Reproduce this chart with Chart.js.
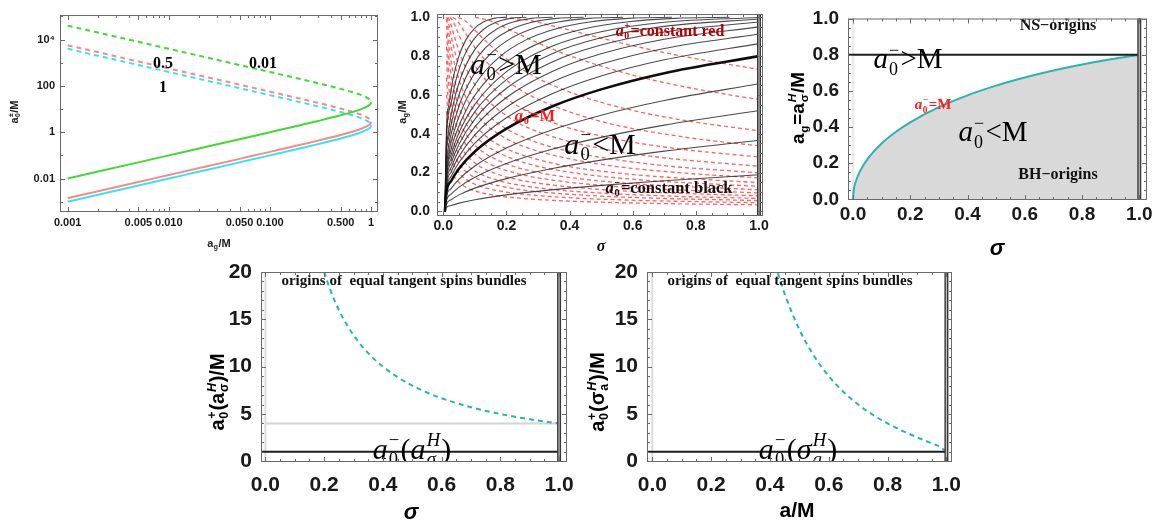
<!DOCTYPE html>
<html><head><meta charset="utf-8">
<script src="https://cdn.jsdelivr.net/npm/chart.js@4.4.1/dist/chart.umd.min.js"></script>
<style>
html,body{margin:0;padding:0;background:#fff;}
#wrap{position:relative;width:1165px;height:523px;overflow:hidden;background:#fff;}
canvas{position:absolute;left:0;top:0;}
</style></head><body>
<div id="wrap">
<canvas id="c1" width="1165" height="523"></canvas>
<canvas id="c2" width="1165" height="523"></canvas>
<canvas id="c3" width="1165" height="523"></canvas>
<canvas id="c4" width="1165" height="523"></canvas>
<canvas id="c5" width="1165" height="523"></canvas>
</div>
<script>
// ---------- tick values / labels ----------
const unitTicks = [0, 0.2, 0.4, 0.6, 0.8, 1];
const unitLabels = ['0.0', '0.2', '0.4', '0.6', '0.8', '1.0'];
const unitMinor = [0.05,0.1,0.15,0.25,0.3,0.35,0.45,0.5,0.55,0.65,0.7,0.75,0.85,0.9,0.95];
const spinTicks = [0, 5, 10, 15, 20];
const spinLabels = ['0', '5', '10', '15', '20'];
const spinMinor = [1,2,3,4,6,7,8,9,11,12,13,14,16,17,18,19];
const p1XTicks = [0.001, 0.005, 0.01, 0.05, 0.1, 0.5, 1];
const p1XLabels = ['0.001', '0.005', '0.010', '0.050', '0.100', '0.500', '1'];
const p1XMinor = [0.002,0.003,0.004,0.006,0.007,0.008,0.009,0.02,0.03,0.04,0.06,0.07,0.08,0.09,0.2,0.3,0.4,0.6,0.7,0.8,0.9];
const p1YTicks = [0.01, 1, 100, 10000];
const p1YLabels = ['0.01', '1', '100', '10\u2074'];
const p1YMinor = [0.001, 0.1, 10, 1000, 100000];

// ---------- panel 1: a0± vs a_g (sigma = 0.01, 0.5, 1) ----------
const p1Ag = [0.001,0.002,0.005,0.01,0.02,0.05,0.1,0.2,0.3,0.5,0.7,0.8,0.9,0.95,0.98,0.995,1.0];
const p1MinusS1 = [0.001,0.002,0.005,0.01,0.02,0.05003,0.10025,0.20204,0.30707,0.5359,0.81674,1.0,1.25358,1.4479,1.6347,1.8093,2.0];
const p1PlusS1 = [4000,2000,800,400,199.98,79.95,39.9,19.798,13.026,7.4641,4.8976,4.0,3.1909,2.7626,2.4469,2.2108,2.0];
const p1MinusS05 = [0.001414,0.002828,0.007071,0.014142,0.028284,0.070753,0.141775,0.285727,0.434262,0.757875,1.155046,1.414214,1.772826,2.047635,2.311809,2.55872,2.828427];
const p1PlusS05 = [5656.9,2828.4,1131.4,565.69,282.81,113.07,56.427,27.998,18.422,10.556,6.9263,5.6569,4.5126,3.9069,3.4604,3.1266,2.8284];
const p1MinusS001 = [0.01,0.02,0.05,0.1,0.2,0.5003,1.0025,2.0204,3.0707,5.359,8.1674,10,12.5358,14.479,16.347,18.093,20];
const p1PlusS001 = [40000,20000,8000,4000,1999.8,799.5,399,197.98,130.26,74.641,48.976,40,31.909,27.626,24.469,22.108,20];

// ---------- panel 2: a0- = const (black), a0+ = const (red) ----------
const sigmaGrid = [0.005,0.01,0.025,0.05,0.1,0.2,0.35,0.5,0.7,1.0];
const blackA0 = [0.19,0.38,0.56,0.75,1.0,1.15,1.3,1.45,1.6,1.75,1.9,2.1,2.35,2.65,3.0,3.4,3.9,4.5];
const blackSigma = [
  sigmaGrid, sigmaGrid, sigmaGrid, sigmaGrid, sigmaGrid, sigmaGrid, sigmaGrid, sigmaGrid, sigmaGrid, sigmaGrid, sigmaGrid,
  [0.005,0.01,0.020408,0.036281,0.081633,0.145125,0.226757,0.326531,0.444444,0.580499,0.734694,0.907029],
  [0.005,0.01,0.016297,0.028972,0.065188,0.11589,0.18108,0.26075,0.35491,0.46356,0.58669,0.72431],
  [0.005,0.01,0.012816,0.022784,0.051264,0.091136,0.1424,0.20506,0.2791,0.36454,0.46138,0.5696],
  [0.005,0.01,0.017778,0.04,0.071111,0.11111,0.16,0.21778,0.28444,0.36,0.44444],
  [0.005,0.01,0.013841,0.031142,0.055363,0.086505,0.12457,0.16955,0.22145,0.28028,0.34602],
  [0.005,0.01,0.023669,0.042077,0.065746,0.094675,0.12886,0.16831,0.21302,0.26298],
  [0.005,0.01,0.017778,0.031605,0.049383,0.071111,0.09679,0.12642,0.16,0.19753]
];
const blackAg = [
  [0,0.019,0.03003,0.04246,0.06002,0.08483,0.11205,0.13376,0.15796,0.1883],
  [0,0.03799,0.06003,0.08483,0.11973,0.16872,0.22201,0.26394,0.3101,0.36676],
  [0,0.05596,0.08837,0.12473,0.1757,0.24657,0.32245,0.38104,0.44414,0.51929],
  [0,0.0749,0.11816,0.16653,0.23389,0.32623,0.42289,0.4955,0.57127,0.65753],
  [0,0.09975,0.15714,0.22084,0.30851,0.42592,0.544,0.62853,0.71205,0.8],
  [0,0.11462,0.18033,0.25296,0.35202,0.4824,0.60979,0.69782,0.78133,0.86425],
  [0,0.12945,0.20339,0.28468,0.39444,0.53608,0.67002,0.75892,0.83941,0.91388],
  [0,0.14424,0.22629,0.31594,0.43564,0.58678,0.72454,0.81192,0.88685,0.95043],
  [0,0.15898,0.249,0.34669,0.47553,0.63435,0.77335,0.85711,0.92449,0.97561],
  [0,0.17367,0.2715,0.37689,0.51404,0.6787,0.81652,0.89487,0.95327,0.99115],
  [0,0.1883,0.29377,0.40651,0.5511,0.71978,0.85422,0.92576,0.9742,0.99869],
  [0,0.20771,0.2934,0.38462,0.55046,0.68966,0.8,0.88235,0.9396,0.97561,0.99448,1],
  [0,0.2318,0.2934,0.38462,0.55046,0.68966,0.8,0.88235,0.9396,0.97561,0.99448,1],
  [0,0.26043,0.2934,0.38462,0.55046,0.68966,0.8,0.88235,0.9396,0.97561,0.99448,1],
  [0,0.2934,0.38462,0.55046,0.68966,0.8,0.88235,0.9396,0.97561,0.99448,1],
  [0,0.33045,0.38462,0.55046,0.68966,0.8,0.88235,0.9396,0.97561,0.99448,1],
  [0,0.37571,0.55046,0.68966,0.8,0.88235,0.9396,0.97561,0.99448,1],
  [0,0.42832,0.55046,0.68966,0.8,0.88235,0.9396,0.97561,0.99448,1]
];
const redA0 = [4.6,6.3,9.2,11.5,14,17,20,23,27,31,36,42,50,60,72,90,120];
const redSigma = [
  [0.18904,0.27221,0.37051,0.48393,0.61248,0.75614,1.0],
  [0.10078,0.14512,0.19753,0.25799,0.32653,0.40312,0.62988,0.90703,1.0],
  [0.047259,0.068053,0.092628,0.12098,0.18904,0.29537,0.42533,0.57892,0.75614,1.0],
  [0.030246,0.043554,0.059282,0.07743,0.12098,0.18904,0.27221,0.48393,0.75614,1.0],
  [0.020408,0.029388,0.04,0.052245,0.081633,0.12755,0.18367,0.32653,0.5102,0.73469,1.0],
  [0.013841,0.019931,0.027128,0.035433,0.055363,0.086505,0.12457,0.22145,0.34602,0.49827,0.6782,1.0],
  [0.01,0.0144,0.0196,0.0256,0.04,0.0625,0.09,0.16,0.25,0.36,0.64,1.0],
  [0.01,0.01482,0.019357,0.030246,0.047259,0.068053,0.12098,0.18904,0.27221,0.48393,0.75614,1.0],
  [0.01,0.014047,0.021948,0.034294,0.049383,0.087791,0.13717,0.19753,0.35117,0.5487,1.0],
  [0.01,0.016649,0.026015,0.037461,0.066597,0.10406,0.14984,0.26639,0.41623,0.59937,1.0],
  [0.01,0.012346,0.01929,0.027778,0.049383,0.07716,0.11111,0.19753,0.30864,0.44444,0.60494,1.0],
  [0.01,0.014172,0.020408,0.036281,0.056689,0.081633,0.14512,0.22676,0.32653,0.44444,0.65533,1.0],
  [0.01,0.0144,0.0256,0.04,0.0576,0.1024,0.16,0.2304,0.3136,0.4624,0.64,1.0],
  [0.01,0.017778,0.027778,0.04,0.071111,0.11111,0.16,0.21778,0.32111,0.44444,0.69444,1.0],
  [0.01,0.012346,0.01929,0.027778,0.049383,0.07716,0.11111,0.15123,0.22299,0.30864,0.48225,0.69444,1.0],
  [0.01,0.012346,0.017778,0.031605,0.049383,0.071111,0.09679,0.14272,0.19753,0.30864,0.44444,0.64,1.0],
  [0.01,0.017778,0.027778,0.04,0.054444,0.080278,0.11111,0.17361,0.25,0.36,0.5625,1.0]
];
const redAg = [
  [1,0.98361,0.94595,0.89888,0.84906,0.8,0.73132],
  [1,0.98361,0.94595,0.89888,0.84906,0.8,0.68966,0.6,0.57679],
  [1,0.98361,0.94595,0.89888,0.8,0.68966,0.6,0.5283,0.47059,0.41516],
  [1,0.98361,0.94595,0.89888,0.8,0.68966,0.6,0.47059,0.38462,0.33761],
  [1,0.98361,0.94595,0.89888,0.8,0.68966,0.6,0.47059,0.38462,0.32432,0.28],
  [1,0.98361,0.94595,0.89888,0.8,0.68966,0.6,0.47059,0.38462,0.32432,0.28,0.23208],
  [1,0.98361,0.94595,0.89888,0.8,0.68966,0.6,0.47059,0.38462,0.32432,0.24615,0.19802],
  [0.99031,0.94595,0.89888,0.8,0.68966,0.6,0.47059,0.38462,0.32432,0.24615,0.19802,0.17261],
  [0.9566,0.89888,0.8,0.68966,0.6,0.47059,0.38462,0.32432,0.24615,0.19802,0.14734],
  [0.9111,0.8,0.68966,0.6,0.47059,0.38462,0.32432,0.24615,0.19802,0.16552,0.1285],
  [0.84906,0.8,0.68966,0.6,0.47059,0.38462,0.32432,0.24615,0.19802,0.16552,0.14213,0.11077],
  [0.77634,0.68966,0.6,0.47059,0.38462,0.32432,0.24615,0.19802,0.16552,0.14213,0.11724,0.09502],
  [0.68966,0.6,0.47059,0.38462,0.32432,0.24615,0.19802,0.16552,0.14213,0.11724,0.09975,0.07987],
  [0.6,0.47059,0.38462,0.32432,0.24615,0.19802,0.16552,0.14213,0.11724,0.09975,0.07987,0.06659],
  [0.51576,0.47059,0.38462,0.32432,0.24615,0.19802,0.16552,0.14213,0.11724,0.09975,0.07987,0.06659,0.05551],
  [0.42353,0.38462,0.32432,0.24615,0.19802,0.16552,0.14213,0.11724,0.09975,0.07987,0.06659,0.05551,0.04442],
  [0.32432,0.24615,0.19802,0.16552,0.14213,0.11724,0.09975,0.07987,0.06659,0.05551,0.04442,0.03332]
];
const sigmaOneX = [1, 1];
const sigmaOneY = [-1, 2];

// ---------- panel 3: a_g = a_sigma^H ----------
const p3Sigma = [0,0.0025,0.01,0.025,0.05,0.1,0.15,0.2,0.3,0.4,0.5,0.6,0.7,0.8,0.9,1.0];
const p3Ag = [0,0.04997,0.09975,0.15713,0.22085,0.30852,0.3733,0.42592,0.50951,0.57496,0.62854,0.67356,0.71205,0.74536,0.77443,0.8];
const p3NsX = [-0.05, 1];
const p3NsY = [0.8, 0.8];
const zeroLineX = [0, 0];

// ---------- panel 4: a0+(a_sigma^H) vs sigma ----------
const p4Sigma = [0.2,0.22,0.25,0.28,0.32,0.36,0.4,0.45,0.5,0.55,0.6,0.7,0.8,0.9,1.0];
const p4A0Plus = [20,18.182,16,14.286,12.5,11.111,10,8.8889,8,7.2727,6.6667,5.7143,5,4.4444,4];
const p4GrayX = [0, 1];
const p4GrayY = [4, 4];
const a0MinusX = [-0.05, 1];
const a0MinusY = [1, 1];
const spinVertY = [-1, 21];

// ---------- panel 5: a0+(sigma_a^H) vs a/M ----------
const p5A = [0.427,0.45,0.5,0.55,0.6,0.65,0.7,0.75,0.8,0.85,0.9,0.95,0.98,1.0];
const p5A0Plus = [19.888,17.697,13.928,11.133,9,7.331,5.9965,4.9073,4,3.2264,2.5454,1.908,1.4969,1];

// ================== helpers ==================
const W = 1165, H = 523;
Chart.defaults.font.family = '"Liberation Sans", Arial, sans-serif';
const pts = (xs, ys) => xs.map((x, i) => ({x: x, y: ys[i]}));

function drawRich(ctx, t) {
  const fam = t.sans ? '"Liberation Sans", Arial, sans-serif' : '"Liberation Serif", "Times New Roman", serif';
  const wt = t.bold ? 'bold ' : '';
  const S = t.size, s = S * 0.62;
  const f = (it, sz) => (it ? 'italic ' : '') + wt + sz + 'px ' + fam;
  ctx.save();
  const items = [];
  let total = 0;
  for (const p of t.parts) {
    if (typeof p === 'string' || p.t !== undefined) {
      const txt = typeof p === 'string' ? p : p.t;
      const it = typeof p === 'string' ? false : !!p.it;
      ctx.font = f(it, S);
      const wd = ctx.measureText(txt).width;
      items.push({k: 'n', txt, it, wd}); total += wd;
    } else {
      let w1 = 0, w2 = 0;
      if (p.sub) { ctx.font = f(p.subIt, s); w1 = ctx.measureText(p.sub).width; }
      if (p.sup) { ctx.font = f(p.supIt, s); w2 = ctx.measureText(p.sup).width; }
      const wd = Math.max(w1, w2) + S * 0.08;
      items.push({k: 's', p, wd}); total += wd;
    }
  }
  ctx.translate(t.x, t.y);
  if (t.rot) ctx.rotate(-Math.PI / 2);
  ctx.fillStyle = t.color || '#000';
  ctx.textBaseline = 'alphabetic';
  ctx.textAlign = 'left';
  let x = -total / 2;
  const base = S * 0.35;
  for (const it of items) {
    if (it.k === 'n') { ctx.font = f(it.it, S); ctx.fillText(it.txt, x, base); }
    else {
      const p = it.p;
      if (p.sub) { ctx.font = f(p.subIt, s); ctx.fillText(p.sub, x + S * 0.04, base + S * 0.22); }
      if (p.sup) { ctx.font = f(p.supIt, s); ctx.fillText(p.sup, x + S * 0.04, base - S * 0.42); }
    }
    x += it.wd;
  }
  ctx.restore();
}

function decorPlugin(cfg) {
  return {
    id: 'decor',
    afterDatasetsDraw(chart) {
      const c = chart.ctx, a = chart.chartArea;
      c.save();
      c.beginPath(); c.rect(a.left, a.top, a.right - a.left, a.bottom - a.top); c.clip();
      (cfg.inner || []).forEach(t => drawRich(c, t));
      c.restore();
      c.save();
      c.strokeStyle = cfg.frameColor || '#6a6a6a';
      c.lineWidth = 1;
      c.strokeRect(a.left + 0.5, a.top + 0.5, a.right - a.left - 1, a.bottom - a.top - 1);
      const xs = chart.scales.x, ys = chart.scales.y;
      const tickX = (vals, len) => vals.forEach(v => {
        const p = Math.round(xs.getPixelForValue(v)) + 0.5;
        if (p < a.left || p > a.right) return;
        c.beginPath(); c.moveTo(p, a.bottom); c.lineTo(p, a.bottom - len);
        c.moveTo(p, a.top); c.lineTo(p, a.top + len); c.stroke();
      });
      const tickY = (vals, len) => vals.forEach(v => {
        const p = Math.round(ys.getPixelForValue(v)) + 0.5;
        if (p < a.top || p > a.bottom) return;
        c.beginPath(); c.moveTo(a.left, p); c.lineTo(a.left + len, p);
        c.moveTo(a.right, p); c.lineTo(a.right - len, p); c.stroke();
      });
      tickX(cfg.xMajor, 5); tickX(cfg.xMinor, 3);
      tickY(cfg.yMajor, 5); tickY(cfg.yMinor, 3);
      c.restore();
      (cfg.outer || []).forEach(t => drawRich(c, t));
    }
  };
}

function axis(s, fr, isX) {
  return {
    type: s.type || 'linear', min: s.min, max: s.max, position: isX ? 'bottom' : 'left',
    grid: {display: false, drawTicks: false}, border: {display: false},
    afterFit: isX ? (sc) => { sc.height = H - fr.b; } : (sc) => { sc.width = fr.l; },
    afterBuildTicks: (sc) => { sc.ticks = s.ticks.map(v => ({value: v})); },
    ticks: {autoSkip: false, maxRotation: 0, minRotation: 0, padding: s.pad, color: '#1a1a1a',
      font: {size: s.font, weight: 'bold', lineHeight: 1},
      callback: (v, i) => s.labels[i]}
  };
}

function makeChart(id, fr, xs, ys, datasets, decor) {
  return new Chart(document.getElementById(id), {
    type: 'line',
    data: {datasets: datasets},
    options: {
      responsive: false, animation: false, devicePixelRatio: 1,
      layout: {padding: {left: 0, top: fr.t, right: W - fr.r, bottom: 0}},
      plugins: {legend: {display: false}, tooltip: {enabled: false}},
      elements: {point: {radius: 0}, line: {borderCapStyle: 'butt'}},
      scales: {x: axis(xs, fr, true), y: axis(ys, fr, false)}
    },
    plugins: [decorPlugin(decor)]
  });
}

const line = (data, color, width, dash, extra) => Object.assign({
  data: data, borderColor: color, borderWidth: width, borderDash: dash || [],
  fill: false, pointRadius: 0, cubicInterpolationMode: 'monotone', showLine: true
}, extra || {});

const vDouble = (ys) => [
  line(pts(sigmaOneX, ys), '#3a3a3a', 4, [], {order: -2, cubicInterpolationMode: 'default', tension: 0}),
  line(pts(sigmaOneX, ys), '#bdbdbd', 1.2, [], {order: -3, cubicInterpolationMode: 'default', tension: 0})
];

// ================== panel 1 ==================
const GREEN = '#41d934', PINK = '#f48a8a', CYAN = '#38e2f2';
makeChart('c1', {l: 60, t: 15, r: 378, b: 212},
  {type: 'logarithmic', min: 0.00084, max: 1.17, ticks: p1XTicks, labels: p1XLabels, font: 11, pad: 5},
  {type: 'logarithmic', min: 3.6e-4, max: 1.15e5, ticks: p1YTicks, labels: p1YLabels, font: 11, pad: 5},
  [
    line(pts(p1Ag, p1MinusS001), GREEN, 2),
    line(pts(p1Ag, p1PlusS001), GREEN, 2, [5, 4]),
    line(pts(p1Ag, p1MinusS05), PINK, 2),
    line(pts(p1Ag, p1PlusS05), PINK, 2, [5, 4]),
    line(pts(p1Ag, p1MinusS1), CYAN, 2),
    line(pts(p1Ag, p1PlusS1), CYAN, 2, [5, 4])
  ],
  {
    xMajor: p1XTicks, xMinor: p1XMinor, yMajor: p1YTicks, yMinor: p1YMinor,
    inner: [
      {parts: ['0.5'], x: 163, y: 62, size: 16, bold: true},
      {parts: ['0.01'], x: 263, y: 62, size: 16, bold: true},
      {parts: ['1'], x: 163, y: 86, size: 16, bold: true}
    ],
    outer: [
      {parts: ['a', {sub: 'g'}, '/M'], x: 219, y: 243, size: 11, bold: true, sans: true, color: '#222'},
      {parts: ['a', {sub: '0', sup: '\u00b1'}, '/M'], x: 14, y: 112, size: 11, bold: true, sans: true, rot: true, color: '#222'}
    ]
  });

// ================== panel 2 ==================
const ds2 = [];
blackA0.forEach((c, i) => {
  const thick = c === 1.0;
  ds2.push(line(pts(blackSigma[i], blackAg[i]), thick ? 'rgba(0,0,0,0.95)' : 'rgba(30,30,30,0.8)', thick ? 2.6 : 1.1, [], {order: 0}));
});
redA0.forEach((c, i) => {
  ds2.push(line(pts(redSigma[i], redAg[i]), 'rgba(255,35,35,0.72)', 1.3, [4, 3], {order: 1}));
});
vDouble(sigmaOneY).forEach(d => ds2.push(d));
makeChart('c2', {l: 437, t: 14, r: 763, b: 216},
  {min: -0.02, max: 1.0127, ticks: unitTicks, labels: unitLabels, font: 14, pad: 3},
  {min: -0.024, max: 1.017, ticks: unitTicks, labels: unitLabels, font: 14, pad: 7},
  ds2,
  {
    xMajor: unitTicks, xMinor: unitMinor, yMajor: unitTicks, yMinor: unitMinor,
    inner: [
      {parts: [{t: 'a', it: true}, {sub: '0', sup: '\u2212'}, '>M'], x: 506, y: 63, size: 30},
      {parts: [{t: 'a', it: true}, {sub: '0', sup: '\u2212'}, '<M'], x: 600, y: 143, size: 30},
      {parts: [{t: 'a', it: true}, {sub: '0', sup: '\u2212'}, '=M'], x: 535, y: 115, size: 16.5, bold: true, color: '#ff1a1a'},
      {parts: [{t: 'a', it: true}, {sub: '0', sup: '+'}, '=constant red'], x: 670, y: 30, size: 16, bold: true, color: '#b00000'},
      {parts: [{t: 'a', it: true}, {sub: '0', sup: '\u2212'}, '=constant black'], x: 669, y: 187, size: 16.5, bold: true, color: '#111'}
    ],
    outer: [
      {parts: [{t: '\u03c3', it: true}], x: 601, y: 245, size: 16, bold: true},
      {parts: ['a', {sub: 'g'}, '/M'], x: 402, y: 112, size: 11, bold: true, sans: true, rot: true, color: '#222'}
    ]
  });

// ================== panel 3 ==================
const TEAL = '#2bb3b3';
makeChart('c3', {l: 848, t: 9, r: 1147, b: 200},
  {min: -0.0175, max: 1.027, ticks: unitTicks, labels: unitLabels, font: 19, pad: 5},
  {min: -0.004, max: 1.0, ticks: unitTicks, labels: unitLabels, font: 19, pad: 9},
  [
    line(pts(p3Sigma, p3Ag), TEAL, 2, [], {fill: 'origin', backgroundColor: '#d9d9d9', order: 0}),
    line(pts(p3NsX, p3NsY), '#1e1e1e', 2, [], {order: -1, cubicInterpolationMode: 'default'}),
    line(pts(zeroLineX, sigmaOneY), '#e2e2e2', 1.5, [], {order: 5, cubicInterpolationMode: 'default'})
  ].concat(vDouble(sigmaOneY)),
  {
    xMajor: unitTicks, xMinor: unitMinor, yMajor: unitTicks, yMinor: unitMinor,
    inner: [
      {parts: ['NS\u2212origins'], x: 1058, y: 24, size: 16, bold: true, color: '#111'},
      {parts: ['BH\u2212origins'], x: 1058, y: 173, size: 16, bold: true, color: '#111'},
      {parts: [{t: 'a', it: true}, {sub: '0', sup: '\u2212'}, '>M'], x: 908, y: 58, size: 29},
      {parts: [{t: 'a', it: true}, {sub: '0', sup: '\u2212'}, '<M'], x: 993, y: 131, size: 29},
      {parts: [{t: 'a', it: true}, {sub: '0', sup: '\u2212'}, '=M'], x: 933, y: 104, size: 15, bold: true, color: '#ff1a1a'}
    ],
    outer: [
      {parts: [{t: '\u03c3', it: true}], x: 997, y: 247, size: 22, bold: true, sans: true},
      {parts: ['a', {sub: 'g'}, '=a', {sub: '\u03c3', sup: 'H', supIt: true}, '/M'], x: 797, y: 108, size: 19, bold: true, sans: true, rot: true}
    ]
  });

// ================== panel 4 ==================
makeChart('c4', {l: 261, t: 272, r: 567, b: 462},
  {min: -0.015, max: 1.027, ticks: unitTicks, labels: unitLabels, font: 21, pad: 13},
  {min: -0.07, max: 20, ticks: spinTicks, labels: spinLabels, font: 21, pad: 9},
  [
    line(pts(p4Sigma, p4A0Plus), TEAL, 2, [5, 4], {order: 0}),
    line(pts(p4GrayX, p4GrayY), '#d4d4d4', 2, [], {order: 3, cubicInterpolationMode: 'default'}),
    line(pts(zeroLineX, spinVertY), '#dcdcdc', 2, [], {order: 4, cubicInterpolationMode: 'default'}),
    line(pts(a0MinusX, a0MinusY), '#1e1e1e', 2, [], {order: -1, cubicInterpolationMode: 'default'})
  ].concat(vDouble(spinVertY)),
  {
    xMajor: unitTicks, xMinor: unitMinor, yMajor: spinTicks, yMinor: spinMinor,
    inner: [
      {parts: ['origins of  equal tangent spins bundles'], x: 404, y: 280, size: 15, bold: true, color: '#111'},
      {parts: [{t: 'a', it: true}, {sub: '0', sup: '\u2212'}, '(', {t: 'a', it: true}, {sub: '\u03c3', sup: 'H', subIt: true, supIt: true}, ')'], x: 412, y: 448, size: 30}
    ],
    outer: [
      {parts: [{t: '\u03c3', it: true}], x: 411, y: 511, size: 22, bold: true, sans: true},
      {parts: ['a', {sub: '0', sup: '+'}, '(a', {sub: '\u03c3', sup: 'H', supIt: true}, ')/M'], x: 217, y: 392, size: 20, bold: true, sans: true, rot: true}
    ]
  });

// ================== panel 5 ==================
makeChart('c5', {l: 647, t: 272, r: 952, b: 462},
  {min: -0.018, max: 1.019, ticks: unitTicks, labels: unitLabels, font: 21, pad: 13},
  {min: -0.07, max: 20, ticks: spinTicks, labels: spinLabels, font: 21, pad: 9},
  [
    line(pts(p5A, p5A0Plus), TEAL, 2, [5, 4], {order: 0}),
    line(pts(zeroLineX, spinVertY), '#dcdcdc', 2, [], {order: 4, cubicInterpolationMode: 'default'}),
    line(pts(a0MinusX, a0MinusY), '#1e1e1e', 2, [], {order: -1, cubicInterpolationMode: 'default'})
  ].concat(vDouble(spinVertY)),
  {
    xMajor: unitTicks, xMinor: unitMinor, yMajor: spinTicks, yMinor: spinMinor,
    inner: [
      {parts: ['origins of  equal tangent spins bundles'], x: 790, y: 280, size: 15, bold: true, color: '#111'},
      {parts: [{t: 'a', it: true}, {sub: '0', sup: '\u2212'}, '(', {t: '\u03c3', it: true}, {sub: 'a', sup: 'H', subIt: true, supIt: true}, ')'], x: 798, y: 448, size: 30}
    ],
    outer: [
      {parts: ['a/M'], x: 797, y: 510, size: 21, bold: true, sans: true},
      {parts: ['a', {sub: '0', sup: '+'}, '(\u03c3', {sub: 'a', sup: 'H', supIt: true}, ')/M'], x: 597, y: 392, size: 20, bold: true, sans: true, rot: true}
    ]
  });
</script>
</body></html>
